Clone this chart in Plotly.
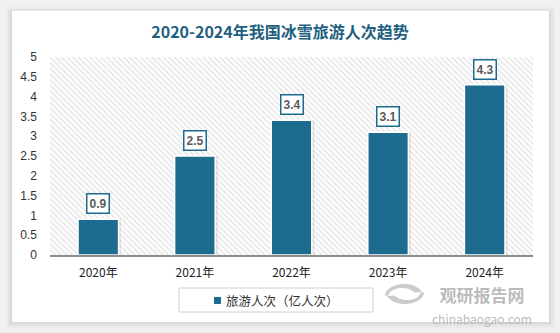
import math
import plotly.graph_objects as go

# Winter tourism visits in China, 2020-2024 (100 million trips)
years = ["2020年", "2021年", "2022年", "2023年", "2024年"]
visits = [0.9, 2.5, 3.4, 3.1, 4.3]
series_name = "旅游人次（亿人次）"
title_text = "2020-2024年我国冰雪旅游人次趋势"
y_ticks = [0, 0.5, 1, 1.5, 2, 2.5, 3, 3.5, 4, 4.5, 5]

W, H = 560, 333
ML, MR, MT, MB = 50, 27, 57, 78
PW, PH = W - ML - MR, H - MT - MB

BAR = "#1d6b8f"
CJK = "Noto Sans CJK SC"


def px(x):
    """pixel x -> paper x"""
    return (x - ML) / PW


def py(y):
    """pixel y -> paper y"""
    return (H - MB - y) / PH


fig = go.Figure()

# hatched plot background on the base axes
fig.add_trace(go.Scatter(
    x=[0, 1, 1, 0, 0], y=[0, 0, 1, 1, 0], xaxis="x", yaxis="y",
    mode="lines", line=dict(width=0), fill="toself",
    fillcolor="#cdcdcd",
    fillpattern=dict(shape="\\", fgcolor="#cdcdcd", bgcolor="white",
                     size=4, solidity=0.4),
    hoverinfo="skip", showlegend=False,
))

# soft shadow behind bars
fig.add_trace(go.Bar(
    x=years, y=visits, xaxis="x2", yaxis="y2",
    width=0.42, offset=-0.21 + 0.025,
    marker=dict(color="rgba(90,90,90,0.14)", line=dict(width=0)),
    hoverinfo="skip", showlegend=False,
))

# main bars
fig.add_trace(go.Bar(
    x=years, y=visits, xaxis="x2", yaxis="y2", name=series_name,
    width=0.42, offset=-0.21,
    marker=dict(color=BAR, line=dict(color="white", width=1.5)),
    showlegend=False,
))

shapes = []
# page shadow + white card
for grow, alpha in [(6, 0.025), (4, 0.03), (2, 0.045)]:
    shapes.append(dict(type="rect", xref="paper", yref="paper", layer="below",
                       x0=px(12 - grow), x1=px(549 + grow),
                       y0=py(322 + grow), y1=py(11 - grow + 2),
                       fillcolor=f"rgba(0,0,0,{alpha})", line=dict(width=0)))
shapes.append(dict(type="rect", xref="paper", yref="paper", layer="below",
                   x0=px(12), x1=px(549), y0=py(322), y1=py(11),
                   fillcolor="white", line=dict(width=0)))

# legend frame and swatch
shapes.append(dict(type="rect", xref="paper", yref="paper",
                   x0=px(179), x1=px(373), y0=py(312), y1=py(288),
                   fillcolor="rgba(0,0,0,0)", line=dict(color="#d0d0d0", width=1)))
shapes.append(dict(type="rect", xref="paper", yref="paper",
                   x0=px(214), x1=px(221), y0=py(304), y1=py(297),
                   fillcolor=BAR, line=dict(width=0)))


# watermark logo: two grey swirl crescents
def path(points):
    return "M " + " L ".join(f"{px(a):.5f},{py(b):.5f}" for a, b in points) + " Z"


upper = []
for i in range(0, 21):
    t = math.radians(200 + i * 8)
    upper.append((405 + 19 * math.cos(t), 292 - 12 * math.sin(t)))
for i in range(20, -1, -1):
    t = math.radians(200 + i * 8)
    upper.append((407 + 13 * math.cos(t), 293 - 7 * math.sin(t)))
lower = []
for i in range(0, 21):
    t = math.radians(20 + i * 8)
    lower.append((404 + 19 * math.cos(t), 296 - 12 * math.sin(t)))
for i in range(20, -1, -1):
    t = math.radians(20 + i * 8)
    lower.append((402 + 13 * math.cos(t), 295 - 7 * math.sin(t)))
for pts in (upper, lower):
    shapes.append(dict(type="path", xref="paper", yref="paper",
                       path=path(pts), fillcolor="rgba(190,190,190,0.8)",
                       line=dict(width=0)))

annotations = []
# value boxes above bars
for yr, v in zip(years, visits):
    annotations.append(dict(
        x=yr, y=v, xref="x2", yref="y2", yanchor="bottom", yshift=5,
        text=f"<b>{v}</b>", showarrow=False,
        font=dict(family="Liberation Sans", size=12, color="#5a5a5a"),
        bgcolor="white", bordercolor=BAR, borderwidth=1.5, borderpad=2,
    ))

# legend text
annotations.append(dict(
    x=px(224), y=py(300), xref="paper", yref="paper", xanchor="left",
    yanchor="middle", text=series_name, showarrow=False,
    font=dict(family=CJK, size=12.5, color="#333333"),
))

# watermark text (two lines in one block)
annotations.append(dict(
    x=px(482), y=py(280), xref="paper", yref="paper", xanchor="center",
    yanchor="top", align="center", showarrow=False,
    text=("<b>观研报告网</b><br>"
          "<span style='font-size:12px'>chinabaogao.com</span>"),
    font=dict(family=CJK, size=17, color="rgba(175,175,175,0.85)"),
))

fig.update_layout(
    width=W, height=H,
    margin=dict(l=ML, r=MR, t=MT, b=MB, pad=0),
    paper_bgcolor="#f1f1f1",
    plot_bgcolor="rgba(0,0,0,0)",
    barmode="overlay",
    showlegend=False,
    title=dict(
        text=f"<b>{title_text}</b>", x=280 / W, xanchor="center",
        y=1 - 32 / H, yanchor="middle",
        font=dict(family=CJK, size=16, color="#1f5f80"),
    ),
    xaxis=dict(range=[0, 1], visible=False, fixedrange=True),
    yaxis=dict(range=[0, 1], visible=False, fixedrange=True),
    xaxis2=dict(
        overlaying="x", side="bottom", type="category",
        showgrid=False, zeroline=False,
        showline=True, linecolor="#8c8c8c", linewidth=1.5,
        ticks="", ticklabelstandoff=6,
        tickfont=dict(family=CJK, size=12, color="#222222"),
    ),
    yaxis2=dict(
        overlaying="y", side="left", range=[0, 5],
        tickvals=y_ticks, ticktext=[f"{t:g}" for t in y_ticks],
        showgrid=False, zeroline=False, showline=False,
        ticks="", ticklabelstandoff=12,
        tickfont=dict(family="Liberation Sans", size=12, color="#333333"),
    ),
    shapes=shapes,
    annotations=annotations,
)

fig.write_html("out.html")
